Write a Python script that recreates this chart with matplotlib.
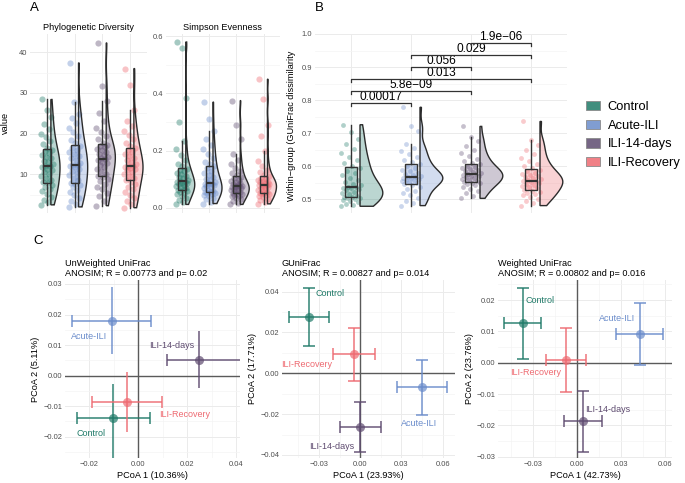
import numpy as np
import matplotlib
matplotlib.use("Agg")
import matplotlib.pyplot as plt
from matplotlib.patches import Patch
from matplotlib.colors import to_rgba
from matplotlib.ticker import FuncFormatter, MultipleLocator

plt.rcParams['font.family'] = ['Liberation Sans', 'DejaVu Sans']

groups = ['Control', 'Acute-ILI', 'ILI-14-days', 'ILI-Recovery']
colors = ['#1F7A68', '#6A8CCB', '#5E4B70', '#EE6A71']

# panel A - phylogenetic diversity
pd_control = [2.5, 3.2, 3.8, 4.5, 5.2, 5.9, 6.4, 7.0, 7.4, 7.8, 8.0, 8.6, 9.1, 9.6, 10.0, 10.5, 11.0, 11.3, 11.7, 12.0,
              12.1, 12.6, 13.0, 13.4, 13.9, 14.3, 14.8, 15.2, 15.7, 16.0, 16.6, 17.4, 18.2, 19.1, 20.0, 21.2, 22.5, 24.0, 25.8, 28.4]
pd_acute = [2.0, 2.8, 3.5, 4.3, 5.0, 5.6, 6.2, 6.8, 7.3, 7.7, 7.9, 8.5, 9.2, 9.8, 10.4, 10.9, 11.3, 11.7, 12.0, 12.2,
            12.3, 12.9, 13.5, 14.0, 14.6, 15.1, 15.6, 16.1, 16.6, 17.0, 17.6, 18.5, 19.4, 20.3, 21.4, 22.6, 23.8, 24.9, 27.8, 37.4]
pd_14days = [2.3, 3.4, 4.6, 5.5, 6.3, 7.0, 7.7, 8.3, 8.8, 9.3, 9.6, 10.2, 10.8, 11.3, 11.8, 12.3, 12.7, 13.1, 13.5, 13.7,
             13.9, 14.3, 14.7, 15.1, 15.5, 15.9, 16.3, 16.7, 17.0, 17.2, 17.8, 18.6, 19.4, 20.3, 21.5, 23.0, 25.0, 28.0, 31.8, 42.3]
pd_recovery = [1.8, 2.6, 3.4, 4.2, 5.0, 5.7, 6.4, 7.0, 7.6, 8.2, 8.6, 9.1, 9.6, 10.1, 10.6, 11.0, 11.3, 11.6, 11.8, 12.0,
               12.1, 12.5, 13.0, 13.5, 14.0, 14.5, 15.0, 15.5, 16.0, 16.4, 17.0, 17.8, 18.7, 19.6, 20.6, 21.8, 23.2, 25.9, 32.0, 36.0]

# panel A - simpson evenness
se_control = [0.012, 0.02, 0.028, 0.035, 0.042, 0.048, 0.052, 0.056, 0.059, 0.061, 0.064, 0.068, 0.072, 0.076, 0.08,
              0.083, 0.086, 0.088, 0.09, 0.091, 0.094, 0.098, 0.103, 0.108, 0.113, 0.118, 0.123, 0.128, 0.133, 0.137,
              0.145, 0.155, 0.168, 0.185, 0.205, 0.235, 0.3, 0.385, 0.56, 0.58]
se_acute = [0.015, 0.022, 0.03, 0.036, 0.041, 0.045, 0.048, 0.051, 0.053, 0.055, 0.057, 0.06, 0.064, 0.068, 0.072,
            0.076, 0.079, 0.082, 0.084, 0.085, 0.087, 0.091, 0.096, 0.102, 0.108, 0.115, 0.122, 0.13, 0.138, 0.145,
            0.152, 0.162, 0.175, 0.19, 0.205, 0.22, 0.24, 0.268, 0.31, 0.37]
se_14days = [0.012, 0.018, 0.025, 0.031, 0.036, 0.04, 0.043, 0.046, 0.048, 0.05, 0.052, 0.055, 0.058, 0.061, 0.064,
             0.067, 0.07, 0.072, 0.074, 0.075, 0.076, 0.078, 0.081, 0.084, 0.087, 0.09, 0.094, 0.099, 0.104, 0.109,
             0.115, 0.122, 0.13, 0.14, 0.152, 0.168, 0.19, 0.24, 0.29, 0.375]
se_recovery = [0.014, 0.02, 0.026, 0.032, 0.037, 0.041, 0.044, 0.047, 0.049, 0.051, 0.053, 0.056, 0.06, 0.064, 0.068,
               0.071, 0.074, 0.077, 0.079, 0.08, 0.081, 0.083, 0.086, 0.089, 0.092, 0.095, 0.098, 0.102, 0.106, 0.11,
               0.116, 0.124, 0.134, 0.148, 0.165, 0.2, 0.25, 0.29, 0.38, 0.45]

# panel B - within-group GUniFrac dissimilarity
gu_control = [0.478, 0.482, 0.486, 0.49, 0.494, 0.497, 0.5, 0.502, 0.504, 0.505, 0.507, 0.51, 0.514, 0.518, 0.522,
              0.526, 0.529, 0.532, 0.534, 0.535, 0.537, 0.541, 0.546, 0.552, 0.558, 0.565, 0.572, 0.579, 0.586, 0.594,
              0.6, 0.608, 0.618, 0.628, 0.64, 0.652, 0.667, 0.683, 0.703, 0.725]
gu_acute = [0.48, 0.487, 0.495, 0.503, 0.511, 0.518, 0.525, 0.531, 0.537, 0.542, 0.546, 0.549, 0.552, 0.555, 0.557,
            0.559, 0.561, 0.563, 0.565, 0.566, 0.568, 0.571, 0.574, 0.577, 0.58, 0.584, 0.589, 0.594, 0.6, 0.605,
            0.611, 0.618, 0.626, 0.635, 0.645, 0.655, 0.666, 0.705, 0.722, 0.778]
gu_14days = [0.502, 0.51, 0.518, 0.525, 0.531, 0.537, 0.541, 0.545, 0.548, 0.55, 0.552, 0.555, 0.558, 0.561, 0.564,
             0.567, 0.569, 0.571, 0.573, 0.575, 0.576, 0.578, 0.581, 0.584, 0.587, 0.59, 0.593, 0.597, 0.601, 0.605,
             0.61, 0.616, 0.622, 0.63, 0.638, 0.648, 0.66, 0.675, 0.688, 0.72]
gu_recovery = [0.48, 0.487, 0.494, 0.5, 0.506, 0.511, 0.515, 0.519, 0.522, 0.525, 0.528, 0.532, 0.536, 0.54, 0.543,
               0.546, 0.549, 0.552, 0.554, 0.555, 0.557, 0.56, 0.563, 0.566, 0.569, 0.572, 0.576, 0.58, 0.584, 0.588,
               0.594, 0.6, 0.607, 0.615, 0.625, 0.637, 0.65, 0.665, 0.68, 0.735]

sig_pairs = [(1, 2), (1, 3), (1, 4), (2, 3), (2, 4), (3, 4)]
sig_labels = ['0.00017', '5.8e\u221209', '0.013', '0.056', '0.029', '1.9e\u221206']
sig_levels = [0.791, 0.827, 0.864, 0.900, 0.936, 0.973]

# panel C - PCoA centroids (order as groups) with error bar ends
c1_x = [-0.0101, -0.0107, 0.0249, -0.0046]
c1_xlo = [-0.0250, -0.0268, 0.0117, -0.0189]
c1_xhi = [0.0049, 0.0053, 0.0450, 0.0097]
c1_y = [-0.0140, 0.0180, 0.0051, -0.0087]
c1_ylo = [-0.0300, 0.0071, -0.0041, -0.0186]
c1_yhi = [-0.0028, 0.0290, 0.0147, 0.0011]
c1_lx = [-0.0192, -0.0198, 0.0139, 0.0192]
c1_ly = [-0.0191, 0.0127, 0.0100, -0.0126]

c2_x = [-0.0370, 0.0452, -0.0005, -0.0044]
c2_xlo = [-0.0520, 0.0266, -0.0150, -0.0201]
c2_xhi = [-0.0225, 0.0634, 0.0148, 0.0109]
c2_y = [0.0277, -0.0069, -0.0265, 0.0093]
c2_ylo = [0.0134, -0.0204, -0.0387, -0.0038]
c2_yhi = [0.0420, 0.0065, -0.0139, 0.0221]
c2_lx = [-0.0223, 0.0429, -0.0206, -0.0390]
c2_ly = [0.0389, -0.0245, -0.0360, 0.0044]

c3_x = [-0.0372, 0.0428, 0.0037, -0.0079]
c3_xlo = [-0.0498, 0.0266, -0.0089, -0.0213]
c3_xhi = [-0.0250, 0.0586, 0.0170, 0.0059]
c3_y = [0.0126, 0.0092, -0.0185, 0.0009]
c3_ylo = [0.0013, -0.0008, -0.0286, -0.0093]
c3_yhi = [0.0240, 0.0192, -0.0089, 0.0112]
c3_lx = [-0.0254, 0.0268, 0.0204, -0.0282]
c3_ly = [0.0200, 0.0141, -0.0148, -0.0032]

W, H = 685, 483
fig = plt.figure(figsize=(6.85, 4.83), dpi=100)


def fmt(d):
    return FuncFormatter(lambda v, p: ('%.*f' % (d, v)).replace('-', '\u2212'))


def style(ax):
    for s in ax.spines.values():
        s.set_visible(False)
    ax.tick_params(which='both', length=0, labelsize=5.4, labelcolor='#4D4D4D', pad=2)
    ax.grid(which='major', color='#EBEBEB', lw=0.7)
    ax.grid(which='minor', color='#F4F4F4', lw=0.5)
    ax.set_axisbelow(True)


def raincloud(ax, data, box_w, vio_off, vio_w, jit, s, a):
    for i, (vals, col) in enumerate(zip(data, colors)):
        x0 = i + 1
        v = np.asarray(vals)
        n = len(v)
        offs = ((np.arange(n) * 0.618034) % 1 - 0.5) * 2 * jit
        ax.scatter(x0 + offs, v, s=s, color=col, alpha=a, lw=0, zorder=2)
        q75, q25 = np.percentile(v, [75, 25])
        bw = 0.9 * min(v.std(ddof=1), (q75 - q25) / 1.34) * n ** -0.2
        grid = np.linspace(v.min(), v.max(), 200)
        dens = np.exp(-0.5 * ((grid[:, None] - v[None, :]) / bw) ** 2).sum(1)
        dens = dens / dens.max() * vio_w
        xs = np.concatenate([[x0 + vio_off], x0 + vio_off + dens, [x0 + vio_off]])
        ys = np.concatenate([[grid[0]], grid, [grid[-1]]])
        ax.fill(xs, ys, facecolor=to_rgba(col, 0.3), edgecolor='#2b2b2b', lw=1.0, zorder=3)
    bp = ax.boxplot(data, positions=[1, 2, 3, 4], widths=box_w, patch_artist=True, showfliers=False,
                    showcaps=False, manage_ticks=False,
                    boxprops=dict(edgecolor='#333333', lw=1.0),
                    whiskerprops=dict(color='#333333', lw=1.0),
                    medianprops=dict(color='#333333', lw=1.6), zorder=5)
    for patch, col in zip(bp['boxes'], colors):
        patch.set_facecolor(to_rgba(col, 0.35))
    ax.set_xlim(0.4, 4.6)
    ax.set_xticks([1, 2, 3, 4])
    ax.set_xticklabels([])
    style(ax)


top_a, bot_a = 34, 213
axPD = fig.add_axes([30.4 / W, 1 - bot_a / H, 116.2 / W, (bot_a - top_a) / H])
raincloud(axPD, [pd_control, pd_acute, pd_14days, pd_recovery], 0.28, 0.14, 0.33, 0.22, 20, 0.4)
axPD.set_ylim(0.5, 44.5)
axPD.yaxis.set_major_locator(MultipleLocator(10))
axPD.yaxis.set_minor_locator(MultipleLocator(5))
axPD.set_title('Phylogenetic Diversity', fontsize=6.6, pad=3)

axSE = fig.add_axes([165.6 / W, 1 - bot_a / H, 114.4 / W, (bot_a - top_a) / H])
raincloud(axSE, [se_control, se_acute, se_14days, se_recovery], 0.27, 0.14, 0.33, 0.22, 20, 0.4)
axSE.set_ylim(-0.018, 0.608)
axSE.yaxis.set_major_locator(MultipleLocator(0.2))
axSE.yaxis.set_minor_locator(MultipleLocator(0.1))
axSE.yaxis.set_major_formatter(fmt(1))
axSE.set_title('Simpson Evenness', fontsize=6.6, pad=3)
fig.text(5 / W, 1 - 123 / H, 'value', rotation=90, ha='center', va='center', fontsize=6.6)

axB = fig.add_axes([315 / W, 1 - bot_a / H, 252 / W, (bot_a - top_a) / H])
raincloud(axB, [gu_control, gu_acute, gu_14days, gu_recovery], 0.21, 0.15, 0.38, 0.17, 12, 0.35)
axB.set_ylim(0.4576, 1.0)
axB.yaxis.set_major_locator(MultipleLocator(0.1))
axB.yaxis.set_minor_locator(MultipleLocator(0.05))
axB.yaxis.set_major_formatter(fmt(1))
for (a, b), lab, yl in zip(sig_pairs, sig_labels, sig_levels):
    axB.plot([a, a, b, b], [yl - 0.01, yl, yl, yl - 0.01], color='#333333', lw=0.9, zorder=6)
    axB.text((a + b) / 2, yl + 0.0185, lab, ha='center', va='center', fontsize=8.6)
fig.text(292 / W, 1 - 126 / H, 'Within\u2212group (GUniFrac dissimilarity', rotation=90,
         ha='center', va='center', fontsize=6.6)

handles = [Patch(facecolor=to_rgba(c, 0.85), edgecolor='#8a8a8a', lw=0.6) for c in colors]
fig.legend(handles, groups, loc='center left', bbox_to_anchor=(574 / W, 1 - 135 / H), frameon=False,
           fontsize=9.3, handlelength=1.15, handleheight=0.75, handletextpad=0.55, labelspacing=0.5)

fig.text(30 / W, 1 - 8 / H, 'A', fontsize=9.5, va='center')
fig.text(315 / W, 1 - 8 / H, 'B', fontsize=9.5, va='center')
fig.text(33 / W, 1 - 241 / H, 'C', fontsize=9.5, va='center')


def pcoa(rect, xs, xlo, xhi, ys, ylo, yhi, lx, ly, xlim, ylim, xmaj, ymaj, title, xlab, ylab, ycap):
    ax = fig.add_axes(rect)
    ax.axhline(0, color='#5a5a5a', lw=1.0, zorder=1)
    ax.axvline(0, color='#5a5a5a', lw=1.0, zorder=1)
    for i, col in enumerate(colors):
        ax.errorbar(xs[i], ys[i], xerr=[[xs[i] - xlo[i]], [xhi[i] - xs[i]]], fmt='none', ecolor=col,
                    elinewidth=1.2, capsize=4, capthick=1.2, alpha=0.85, zorder=3)
        ax.errorbar(xs[i], ys[i], yerr=[[ys[i] - ylo[i]], [yhi[i] - ys[i]]], fmt='none', ecolor=col,
                    elinewidth=1.2, capsize=ycap, capthick=1.2, alpha=0.85, zorder=3)
        ax.plot(xs[i], ys[i], 'o', ms=6.5, color=col, alpha=0.7, mec='none', zorder=4)
        ax.text(lx[i], ly[i], groups[i], color=col, fontsize=6.5, ha='center', va='center', zorder=5)
    ax.set_xlim(*xlim)
    ax.set_ylim(*ylim)
    ax.xaxis.set_major_locator(MultipleLocator(xmaj))
    ax.xaxis.set_minor_locator(MultipleLocator(xmaj / 2))
    ax.yaxis.set_major_locator(MultipleLocator(ymaj))
    ax.yaxis.set_minor_locator(MultipleLocator(ymaj / 2))
    ax.xaxis.set_major_formatter(fmt(2))
    ax.yaxis.set_major_formatter(fmt(2))
    style(ax)
    ax.set_title(title, loc='left', fontsize=6.6, pad=3, linespacing=1.1)
    ax.set_xlabel(xlab, fontsize=6.6, labelpad=2)
    ax.set_ylabel(ylab, fontsize=6.6, labelpad=2)
    return ax


top_c, bot_c = 280, 458
hc = (bot_c - top_c) / H
pcoa([65 / W, 1 - bot_c / H, 175 / W, hc], c1_x, c1_xlo, c1_xhi, c1_y, c1_ylo, c1_yhi, c1_lx, c1_ly,
     (-0.0298, 0.0416), (-0.027, 0.0313), 0.02, 0.01,
     'UnWeighted UniFrac\nANOSIM; R = 0.00773 and p= 0.02', 'PCoA 1 (10.36%)', 'PCoA 2 (5.11%)', 0)
pcoa([282 / W, 1 - bot_c / H, 173 / W, hc], c2_x, c2_xlo, c2_xhi, c2_y, c2_ylo, c2_yhi, c2_lx, c2_ly,
     (-0.057, 0.069), (-0.0415, 0.0457), 0.03, 0.02,
     'GUniFrac\nANOSIM; R = 0.00827 and p= 0.014', 'PCoA 1 (23.93%)', 'PCoA 2 (17.71%)', 4)
pcoa([498.3 / W, 1 - bot_c / H, 173.4 / W, hc], c3_x, c3_xlo, c3_xhi, c3_y, c3_ylo, c3_yhi, c3_lx, c3_ly,
     (-0.0539, 0.0643), (-0.0304, 0.0264), 0.03, 0.01,
     'Weighted UniFrac\nANOSIM; R = 0.00802 and p= 0.016', 'PCoA 1 (42.73%)', 'PCoA 2 (23.76%)', 4)

fig.savefig('out.png', dpi=100)
